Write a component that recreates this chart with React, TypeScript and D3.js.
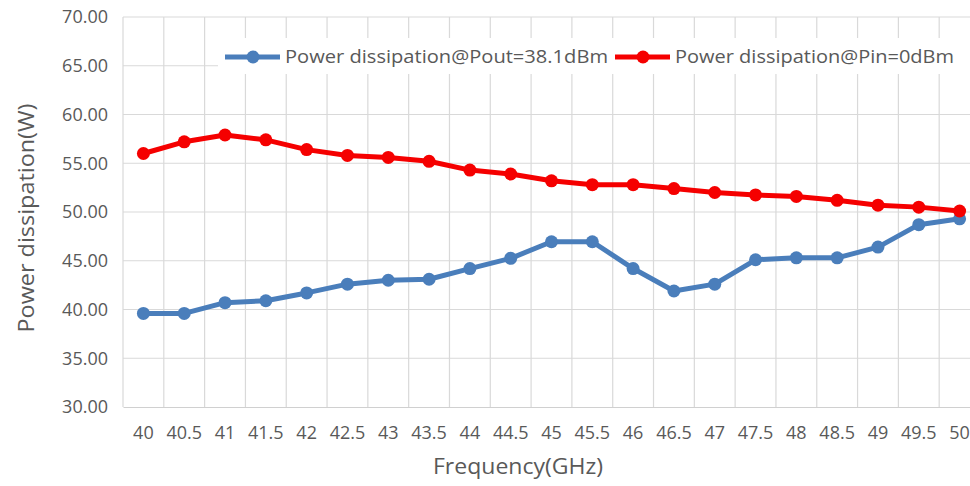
import { useEffect, useRef } from "react";
import { select, scaleBand, scaleLinear, axisBottom, axisLeft, line } from "d3";

const frequencies = ["40", "40.5", "41", "41.5", "42", "42.5", "43", "43.5", "44", "44.5", "45", "45.5", "46", "46.5", "47", "47.5", "48", "48.5", "49", "49.5", "50"];
const poutSeries = [39.6, 39.6, 40.7, 40.9, 41.7, 42.6, 43.0, 43.1, 44.2, 45.25, 46.95, 46.95, 44.2, 41.9, 42.6, 45.1, 45.3, 45.3, 46.4, 48.7, 49.3];
const pinSeries = [56.0, 57.2, 57.9, 57.4, 56.4, 55.8, 55.6, 55.2, 54.3, 53.9, 53.2, 52.8, 52.8, 52.4, 52.0, 51.75, 51.6, 51.2, 50.7, 50.5, 50.1];
const yTicks = [30, 35, 40, 45, 50, 55, 60, 65, 70];
const seriesNames = ["Power dissipation@Pout=38.1dBm", "Power dissipation@Pin=0dBm"];
const seriesColors = ["#4a7ebb", "#f50000"];

const W = 970;
const H = 486;
const FONT = "'Open Sans', sans-serif";

const App: React.FC = () => {
  const svgRef = useRef<SVGSVGElement>(null);

  useEffect(() => {
    const svg = select(svgRef.current);
    svg.selectAll("*").remove();

    const left = 123;
    const right = 980;
    const top = 17;
    const bottom = 407;

    const x: any = scaleBand().domain(frequencies).range([left, right]).padding(0);
    const y: any = scaleLinear().domain([30, 70]).range([bottom, top]);

    // horizontal gridlines
    svg
      .append("g")
      .selectAll("line")
      .data(yTicks.slice(1))
      .join("line")
      .attr("x1", left)
      .attr("x2", right)
      .attr("y1", (d: number) => y(d))
      .attr("y2", (d: number) => y(d))
      .attr("stroke", "#d9d9d9")
      .attr("stroke-width", 1.2);

    // vertical gridlines at category edges
    const edges = frequencies.map((f) => x(f)).concat([right]);
    svg
      .append("g")
      .selectAll("line")
      .data(edges)
      .join("line")
      .attr("x1", (d: number) => d)
      .attr("x2", (d: number) => d)
      .attr("y1", top)
      .attr("y2", bottom)
      .attr("stroke", "#d9d9d9")
      .attr("stroke-width", 1.2);

    // axes
    const yAxis: any = axisLeft(y)
      .tickValues(yTicks)
      .tickSize(0)
      .tickPadding(15)
      .tickFormat((d: any) => d.toFixed(2));
    const gy = svg.append("g").attr("transform", `translate(${left},0)`).call(yAxis);
    gy.select(".domain").remove();
    gy.selectAll("text")
      .attr("font-family", FONT)
      .attr("font-size", 18)
      .attr("fill", "#595959");

    const xAxis: any = axisBottom(x).tickSize(0).tickPadding(19);
    const gx = svg.append("g").attr("transform", `translate(0,${bottom})`).call(xAxis);
    gx.select(".domain").attr("stroke", "#d0d0d0").attr("stroke-width", 1.2);
    gx.selectAll("text")
      .attr("font-family", FONT)
      .attr("font-size", 18)
      .attr("fill", "#595959");

    // series
    const series = [poutSeries, pinSeries];
    series.forEach((values, i) => {
      const pts: [number, number][] = values.map((v, j) => [
        x(frequencies[j]) + x.bandwidth() / 2,
        y(v),
      ]);
      svg
        .append("path")
        .datum(pts)
        .attr("d", line() as any)
        .attr("fill", "none")
        .attr("stroke", seriesColors[i])
        .attr("stroke-width", 5)
        .attr("stroke-linejoin", "round");
      svg
        .append("g")
        .selectAll("circle")
        .data(pts)
        .join("circle")
        .attr("cx", (d) => d[0])
        .attr("cy", (d) => d[1])
        .attr("r", 6.5)
        .attr("fill", seriesColors[i]);
    });

    // legend
    const lg = svg.append("g");
    lg.append("rect")
      .attr("x", 218)
      .attr("y", 38)
      .attr("width", 752)
      .attr("height", 36)
      .attr("fill", "#ffffff");
    const legendItems = [
      { lineX: 225, textX: 285, textLen: 323 },
      { lineX: 615, textX: 675, textLen: 279 },
    ];
    legendItems.forEach((item, i) => {
      lg.append("line")
        .attr("x1", item.lineX)
        .attr("x2", item.lineX + 55)
        .attr("y1", 57)
        .attr("y2", 57)
        .attr("stroke", seriesColors[i])
        .attr("stroke-width", 5);
      lg.append("circle")
        .attr("cx", item.lineX + 28)
        .attr("cy", 57)
        .attr("r", 6.5)
        .attr("fill", seriesColors[i]);
      lg.append("text")
        .attr("x", item.textX)
        .attr("y", 57)
        .attr("dy", "0.36em")
        .attr("font-family", FONT)
        .attr("font-size", 18)
        .attr("fill", "#595959")
        .attr("textLength", item.textLen)
        .attr("lengthAdjust", "spacingAndGlyphs")
        .text(seriesNames[i]);
    });

    // axis titles
    svg
      .append("text")
      .attr("x", 518)
      .attr("y", 474)
      .attr("text-anchor", "middle")
      .attr("font-family", FONT)
      .attr("font-size", 22)
      .attr("fill", "#595959")
      .attr("textLength", 170)
      .attr("lengthAdjust", "spacingAndGlyphs")
      .text("Frequency(GHz)");
    svg
      .append("text")
      .attr("transform", "translate(34,218) rotate(-90)")
      .attr("text-anchor", "middle")
      .attr("font-family", FONT)
      .attr("font-size", 22)
      .attr("fill", "#595959")
      .attr("textLength", 229)
      .attr("lengthAdjust", "spacingAndGlyphs")
      .text("Power dissipation(W)");
  }, []);

  return (
    <svg
      ref={svgRef}
      width={W}
      height={H}
      style={{ position: "absolute", left: 0, top: 0, background: "#ffffff" }}
    />
  );
};

export default App;
